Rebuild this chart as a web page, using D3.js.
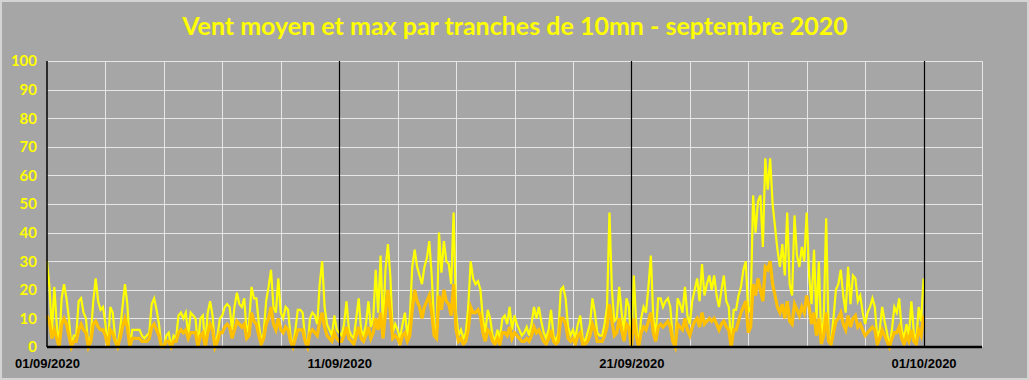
<!DOCTYPE html>
<html>
<head>
<meta charset="utf-8">
<script src="https://cdn.jsdelivr.net/npm/d3@7"></script>
<style>
  body { margin: 0; background: #a6a6a6; }
  svg { display: block; }
</style>
</head>
<body>
<svg id="chart" width="1029" height="380"></svg>
<script>
const TITLE = "Vent moyen et max par tranches de 10mn - septembre 2020";

// one value every 2 hours, starting 01/09/2020 00:00 (12 values per day)
const STEP_HOURS = 2;
const maxWind = [
  30,21,5,21,8,0,17,22,17,10,0,4,
  4,16,17,12,10,0,4,16,24,16,13,14,
  8,0,14,12,3,0,6,14,22,15,0,6,
  6,6,6,4,3,4,5,15,17,13,8,0,
  0,4,5,0,4,3,11,12,10,12,4,12,
  11,10,0,10,11,0,12,16,11,0,4,10,
  11,14,15,14,6,14,19,15,14,17,5,8,
  21,17,17,8,2,5,16,21,27,14,12,24,
  12,10,14,13,4,0,6,13,13,12,3,0,
  10,12,11,8,22,30,14,8,6,4,11,6,
  5,4,8,16,6,4,3,10,17,6,4,8,
  16,7,10,27,12,32,6,27,36,25,5,8,
  6,3,8,12,4,10,28,34,28,25,22,28,
  31,37,25,8,5,40,26,37,30,29,22,47,
  12,4,6,3,5,14,30,24,22,23,20,10,
  5,13,10,4,2,6,3,10,11,8,14,6,
  11,8,6,4,5,7,4,8,14,10,14,9,
  5,3,6,13,4,2,5,20,21,17,7,4,
  6,3,8,11,3,2,5,8,17,12,5,4,
  4,8,14,47,20,9,10,21,12,5,17,14,
  0,25,8,0,10,14,12,21,32,10,4,17,
  17,14,16,17,14,3,0,17,15,12,21,11,
  8,16,20,24,16,29,18,22,25,20,25,18,
  14,20,25,16,14,0,13,13,18,21,27,30,
  12,14,53,40,51,53,35,66,55,66,50,42,
  34,28,36,25,47,22,18,46,32,28,35,30,
  47,25,15,34,10,30,2,10,45,4,2,10,
  20,22,27,18,12,28,15,25,24,16,18,12,
  8,12,14,17,14,3,6,14,9,5,0,6,
  14,12,17,6,3,8,4,16,5,2,14,9,
  24
];
const meanWind = [
  11,9,3,6,3,0,8,10,8,4,0,2,
  2,6,8,6,5,0,2,8,9,7,6,6,
  4,0,6,5,2,0,3,7,10,7,0,3,
  3,3,3,2,2,2,3,7,8,6,4,0,
  0,2,2,0,2,2,5,6,5,6,3,5,
  5,5,0,4,5,0,5,8,6,0,2,5,
  5,7,8,7,3,6,9,8,7,8,3,4,
  12,9,8,4,1,3,8,10,14,8,6,10,
  6,5,7,6,2,0,3,6,6,6,2,0,
  5,6,5,4,9,12,7,4,3,2,5,3,
  2,2,4,7,3,2,1,4,7,3,2,4,
  7,3,5,10,6,12,3,12,20,12,3,4,
  3,1,4,5,2,4,13,20,16,14,10,14,
  16,18,12,4,3,18,13,20,16,15,11,22,
  6,2,3,1,2,6,14,12,12,13,11,5,
  2,6,5,2,1,3,1,5,5,4,7,3,
  5,4,3,2,2,3,2,4,7,5,6,4,
  2,1,3,6,2,1,2,10,10,8,3,2,
  3,1,4,5,1,1,2,4,8,6,2,2,
  2,4,7,15,9,4,5,10,6,2,8,7,
  0,10,4,0,5,7,6,9,12,5,2,7,
  8,7,8,9,7,2,0,8,7,6,10,6,
  4,7,9,10,7,12,8,9,10,9,10,8,
  6,8,9,7,6,0,6,6,9,12,14,16,
  5,7,22,18,24,20,16,28,27,30,22,18,
  14,12,15,10,16,9,8,15,13,11,14,12,
  18,14,8,12,4,10,1,4,12,2,1,5,
  9,10,12,8,6,11,7,10,11,7,8,6,
  4,5,6,7,6,1,3,6,4,2,0,3,
  5,5,7,3,1,4,2,6,2,1,6,4,
  11
];

const tickLabels = ["01/09/2020", "11/09/2020", "21/09/2020", "01/10/2020"];
const tickDates = [Date.UTC(2020, 8, 1), Date.UTC(2020, 8, 11), Date.UTC(2020, 8, 21), Date.UTC(2020, 9, 1)].map(t => new Date(t));
const yTicks = [0, 10, 20, 30, 40, 50, 60, 70, 80, 90, 100];

const W = 1029, H = 380;
const margin = {left: 47, right: 47, top: 61, bottom: 33};

const start = new Date(Date.UTC(2020, 8, 1));
const end = new Date(Date.UTC(2020, 9, 3));
const timeAt = (i) => d3.utcHour.offset(start, i * STEP_HOURS);

const x = d3.scaleUtc()
  .domain([start, end])
  .range([margin.left, W - margin.right]);

const y = d3.scaleLinear()
  .domain([0, 100])
  .range([H - margin.bottom, margin.top]);

const svg = d3.select("#chart");

// background + light frame
svg.append("rect")
  .attr("x", 1).attr("y", 1)
  .attr("width", W - 2).attr("height", H - 2)
  .attr("fill", "#a6a6a6")
  .attr("stroke", "#d4d4d4")
  .attr("stroke-width", 2);

svg.append("text")
  .attr("x", 515)
  .attr("y", 35)
  .attr("text-anchor", "middle")
  .attr("font-family", "Lato, 'Open Sans', sans-serif")
  .attr("font-weight", "bold")
  .attr("font-size", 25)
  .attr("fill", "#ffff00")
  .text(TITLE);

// grid
const grid = svg.append("g").attr("stroke", "#e6e6e6").attr("stroke-width", 1);

grid.selectAll("line.h")
  .data(yTicks.slice(1))
  .join("line")
  .attr("class", "h")
  .attr("x1", x.range()[0]).attr("x2", x.range()[1])
  .attr("y1", d => Math.round(y(d)) + 0.5).attr("y2", d => Math.round(y(d)) + 0.5);

grid.selectAll("line.v")
  .data(d3.utcDay.every(2).range(d3.utcDay.offset(start, 1), d3.utcDay.offset(end, 1)))
  .join("line")
  .attr("class", "v")
  .attr("x1", d => Math.round(x(d)) + 0.5).attr("x2", d => Math.round(x(d)) + 0.5)
  .attr("y1", y(100)).attr("y2", y(0));

// series
const lineOf = (values) => d3.line()
  .x((d, i) => x(timeAt(i)))
  .y(d => y(d))(values);

svg.append("path")
  .attr("d", lineOf(maxWind))
  .attr("fill", "none")
  .attr("stroke", "#ffff00")
  .attr("stroke-width", 2.2)
  .attr("stroke-linejoin", "miter");

svg.append("path")
  .attr("d", lineOf(meanWind))
  .attr("fill", "none")
  .attr("stroke", "#ffc000")
  .attr("stroke-width", 3.2);

// black separators every 10 days
svg.append("g")
  .selectAll("line")
  .data(tickDates.slice(1))
  .join("line")
  .attr("x1", d => Math.round(x(d)) + 0.5).attr("x2", d => Math.round(x(d)) + 0.5)
  .attr("y1", y(100)).attr("y2", y(0))
  .attr("stroke", "#000")
  .attr("stroke-width", 1.2);

// axes lines
svg.append("line")
  .attr("x1", x.range()[0]).attr("x2", x.range()[0])
  .attr("y1", y(100)).attr("y2", y(0))
  .attr("stroke", "#000").attr("stroke-width", 1.5);

svg.append("line")
  .attr("x1", x.range()[0]).attr("x2", x.range()[1])
  .attr("y1", y(0)).attr("y2", y(0))
  .attr("stroke", "#000").attr("stroke-width", 2.5);

// y labels
svg.append("g")
  .attr("transform", `translate(${margin.left - 10},0)`)
  .call(d3.axisLeft(y).tickValues(yTicks).tickSize(0).tickPadding(0))
  .call(g => g.select(".domain").remove())
  .call(g => g.selectAll("text")
    .attr("fill", "#ffff00")
    .attr("font-family", "Lato, sans-serif")
    .attr("font-weight", "bold")
    .attr("font-size", 15));

// x labels
svg.append("g")
  .attr("transform", `translate(0,${y(0) + 12})`)
  .call(d3.axisBottom(x).tickValues(tickDates).tickFormat((d, i) => tickLabels[i]).tickSize(0).tickPadding(0))
  .call(g => g.select(".domain").remove())
  .call(g => g.selectAll("text")
    .attr("fill", "#000")
    .attr("font-family", "'Liberation Sans', Arial, sans-serif")
    .attr("font-weight", "bold")
    .attr("font-size", 13));
</script>
</body>
</html>
